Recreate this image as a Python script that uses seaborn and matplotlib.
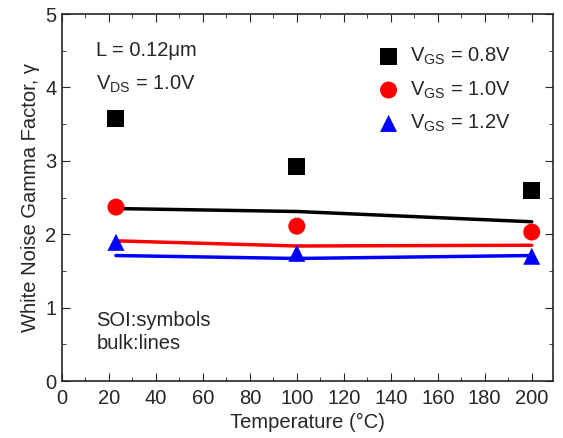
import numpy as np
import pandas as pd
import matplotlib
matplotlib.use("Agg")
import matplotlib.pyplot as plt
import seaborn as sns

# datos
temps = [23, 100, 200]
vgs_labels = ["0.8V", "1.0V", "1.2V"]
soi_08 = [3.58, 2.92, 2.60]
soi_10 = [2.37, 2.11, 2.03]
soi_12 = [1.89, 1.74, 1.70]
bulk_08 = [2.35, 2.31, 2.17]
bulk_10 = [1.91, 1.84, 1.85]
bulk_12 = [1.71, 1.67, 1.71]

colores = ["black", "red", "blue"]
marcadores = ["s", "o", "^"]

sns.set_style("ticks")
plt.rcParams["font.family"] = ["Liberation Sans", "DejaVu Sans"]
plt.rcParams["mathtext.fontset"] = "custom"
plt.rcParams["mathtext.rm"] = "Liberation Sans"
plt.rcParams["mathtext.it"] = "Liberation Sans"

fs = 14.5

fig, ax = plt.subplots(figsize=(5.63, 4.38), dpi=100)

soi = [soi_08, soi_10, soi_12]
bulk = [bulk_08, bulk_10, bulk_12]
# lineas = bulk
for i in range(3):
    df_b = pd.DataFrame({"T": temps, "g": bulk[i]})
    sns.lineplot(data=df_b, x="T", y="g", color=colores[i], linewidth=2.5, ax=ax)
# simbolos = SOI
for i in range(3):
    df_s = pd.DataFrame({"T": temps, "g": soi[i]})
    sns.scatterplot(data=df_s, x="T", y="g", color=colores[i], marker=marcadores[i],
                    s=150, edgecolor="none", ax=ax, zorder=5,
                    label=r"V$_{\rm GS}$ = " + vgs_labels[i])

ax.set_xlim(0, 209)
ax.set_ylim(0, 5)
ax.set_xticks(np.arange(0, 201, 20))
ax.set_xticks(np.arange(0, 210, 10), minor=True)
ax.set_yticks(np.arange(0, 6, 1))
ax.set_yticks(np.arange(0, 5.01, 0.5), minor=True)
ax.tick_params(which="both", direction="in", top=True, right=True, labelsize=fs)
ax.tick_params(axis="x", pad=6)
ax.tick_params(axis="y", pad=4)
ax.tick_params(which="major", length=6)
ax.tick_params(which="minor", length=3)
for s in ax.spines.values():
    s.set_linewidth(1.2)

ax.set_xlabel("Temperature (°C)", fontsize=fs, labelpad=3)
ax.set_ylabel("White Noise Gamma Factor, γ", fontsize=fs, labelpad=4)

ax.legend(loc="upper right", bbox_to_anchor=(0.93, 0.935), frameon=False, fontsize=fs,
          handletextpad=0.05, borderaxespad=0, labelspacing=0.6, markerscale=1.0)

ax.text(0.07, 0.885, "L = 0.12μm", transform=ax.transAxes, fontsize=fs)
ax.text(0.07, 0.795, r"V$_{\rm DS}$ = 1.0V", transform=ax.transAxes, fontsize=fs)
ax.text(0.07, 0.19, "SOI:symbols\nbulk:lines", transform=ax.transAxes, fontsize=fs,
        va="top", linespacing=1.25)

fig.subplots_adjust(left=0.11, right=0.982, top=0.968, bottom=0.13)
fig.savefig("out.png", dpi=100)
